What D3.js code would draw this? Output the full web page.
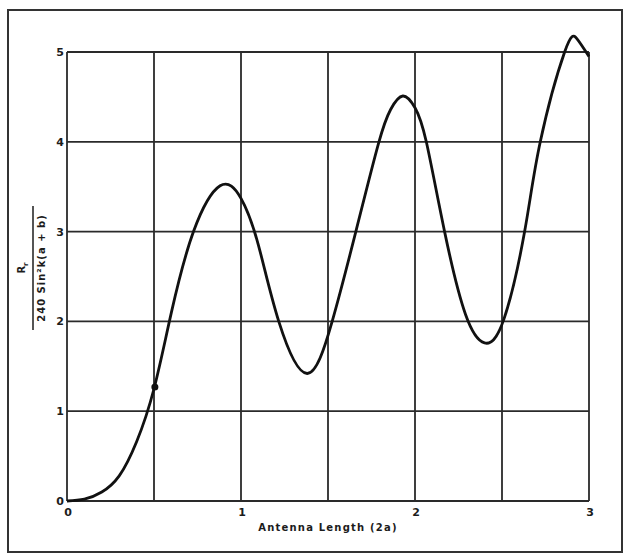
<!DOCTYPE html>
<html>
<head>
<meta charset="utf-8">
<script src="https://cdn.jsdelivr.net/npm/d3@7"></script>
<style>
  body { margin: 0; background: #fff; }
  svg { display: block; font-family: "DejaVu Sans", Arial, sans-serif; }
</style>
</head>
<body>
<div id="chart"></div>
<script>
// du lieu doc tu hinh
var antennaLength = [0, 0.1, 0.2, 0.3, 0.4, 0.5, 0.6, 0.727, 0.88, 1.0, 1.1, 1.217, 1.38, 1.524, 1.66, 1.79, 1.86, 1.93, 2.0, 2.065, 2.17, 2.29, 2.40, 2.51, 2.63, 2.72, 2.86, 2.93, 3.0];
var resistance = [0, 0.02, 0.1, 0.28, 0.66, 1.25, 2.1, 3.0, 3.51, 3.37, 2.85, 2.0, 1.42, 2.0, 3.0, 3.98, 4.36, 4.51, 4.38, 4.0, 3.0, 2.08, 1.76, 2.02, 3.0, 4.0, 5.0, 5.15, 4.95];
var markedPoint = [0.505, 1.27];
var xTicks = [0, 1, 2, 3];
var xGrid = [0, 0.5, 1, 1.5, 2, 2.5, 3];
var yTicks = [0, 1, 2, 3, 4, 5];

function drawAntennaChart(width, height) {
    var ink = "#1c1c1c";

    var svg = d3
        .select("#chart")
        .append("svg")
        .attr("width", width)
        .attr("height", height);

    // khung ngoai
    svg
        .append("rect")
        .attr("x", 8)
        .attr("y", 10)
        .attr("width", 614)
        .attr("height", 542)
        .attr("fill", "none")
        .attr("stroke", "#333")
        .attr("stroke-width", 2);

    var x = d3.scaleLinear().domain([0, 3]).range([67, 589]);
    var y = d3.scaleLinear().domain([0, 5]).range([501, 52]);

    // luoi
    svg
        .selectAll(".vgrid")
        .data(xGrid)
        .enter()
        .append("line")
        .attr("class", "vgrid")
        .attr("x1", d => x(d))
        .attr("x2", d => x(d))
        .attr("y1", y(5))
        .attr("y2", y(0))
        .attr("stroke", "#2a2a2a")
        .attr("stroke-width", 1.8);

    svg
        .selectAll(".hgrid")
        .data(yTicks)
        .enter()
        .append("line")
        .attr("class", "hgrid")
        .attr("x1", x(0))
        .attr("x2", x(3))
        .attr("y1", d => y(d))
        .attr("y2", d => y(d))
        .attr("stroke", "#2a2a2a")
        .attr("stroke-width", 1.8);

    // nhan truc
    svg
        .selectAll(".ylab")
        .data(yTicks)
        .enter()
        .append("text")
        .attr("class", "ylab")
        .attr("x", x(0) - 3)
        .attr("y", d => y(d) + 4)
        .attr("text-anchor", "end")
        .style("font-size", "11px")
        .style("font-weight", "bold")
        .attr("fill", ink)
        .text(d => d);

    svg
        .selectAll(".xlab")
        .data(xTicks)
        .enter()
        .append("text")
        .attr("class", "xlab")
        .attr("x", d => x(d) + 1)
        .attr("y", y(0) + 15)
        .attr("text-anchor", "middle")
        .style("font-size", "11px")
        .style("font-weight", "bold")
        .attr("fill", ink)
        .text(d => d);

    svg
        .append("text")
        .attr("x", 328)
        .attr("y", 531)
        .attr("text-anchor", "middle")
        .style("font-size", "10px")
        .style("font-weight", "bold")
        .style("letter-spacing", "1.2px")
        .attr("fill", ink)
        .text("Antenna Length (2a)");

    // nhan truc y dang phan so
    var yTitle = svg
        .append("g")
        .attr("transform", "translate(33,268) rotate(-90)");

    var num = yTitle
        .append("text")
        .attr("x", 0)
        .attr("y", -8)
        .attr("text-anchor", "middle")
        .style("font-size", "10px")
        .style("font-weight", "bold")
        .attr("fill", ink);
    num.append("tspan").text("R");
    num.append("tspan").attr("dy", 3).style("font-size", "7px").text("r");

    yTitle
        .append("line")
        .attr("x1", -62)
        .attr("x2", 62)
        .attr("y1", 0)
        .attr("y2", 0)
        .attr("stroke", ink)
        .attr("stroke-width", 1.5);

    yTitle
        .append("text")
        .attr("x", 0)
        .attr("y", 12)
        .attr("text-anchor", "middle")
        .style("font-size", "10px")
        .style("font-weight", "bold")
        .style("letter-spacing", "1px")
        .attr("fill", ink)
        .text("240 Sin\u00b2k(a + b)");

    // duong cong
    var points = antennaLength.map((d, i) => [d, resistance[i]]);
    var line = d3
        .line()
        .x(d => x(d[0]))
        .y(d => y(d[1]))
        .curve(d3.curveNatural);

    svg
        .append("path")
        .datum(points)
        .attr("d", line)
        .attr("fill", "none")
        .attr("stroke", "#111")
        .attr("stroke-width", 2.8);

    svg
        .append("circle")
        .attr("cx", x(markedPoint[0]))
        .attr("cy", y(markedPoint[1]))
        .attr("r", 3.5)
        .attr("fill", "#111");
}

drawAntennaChart(628, 557);
</script>
</body>
</html>
